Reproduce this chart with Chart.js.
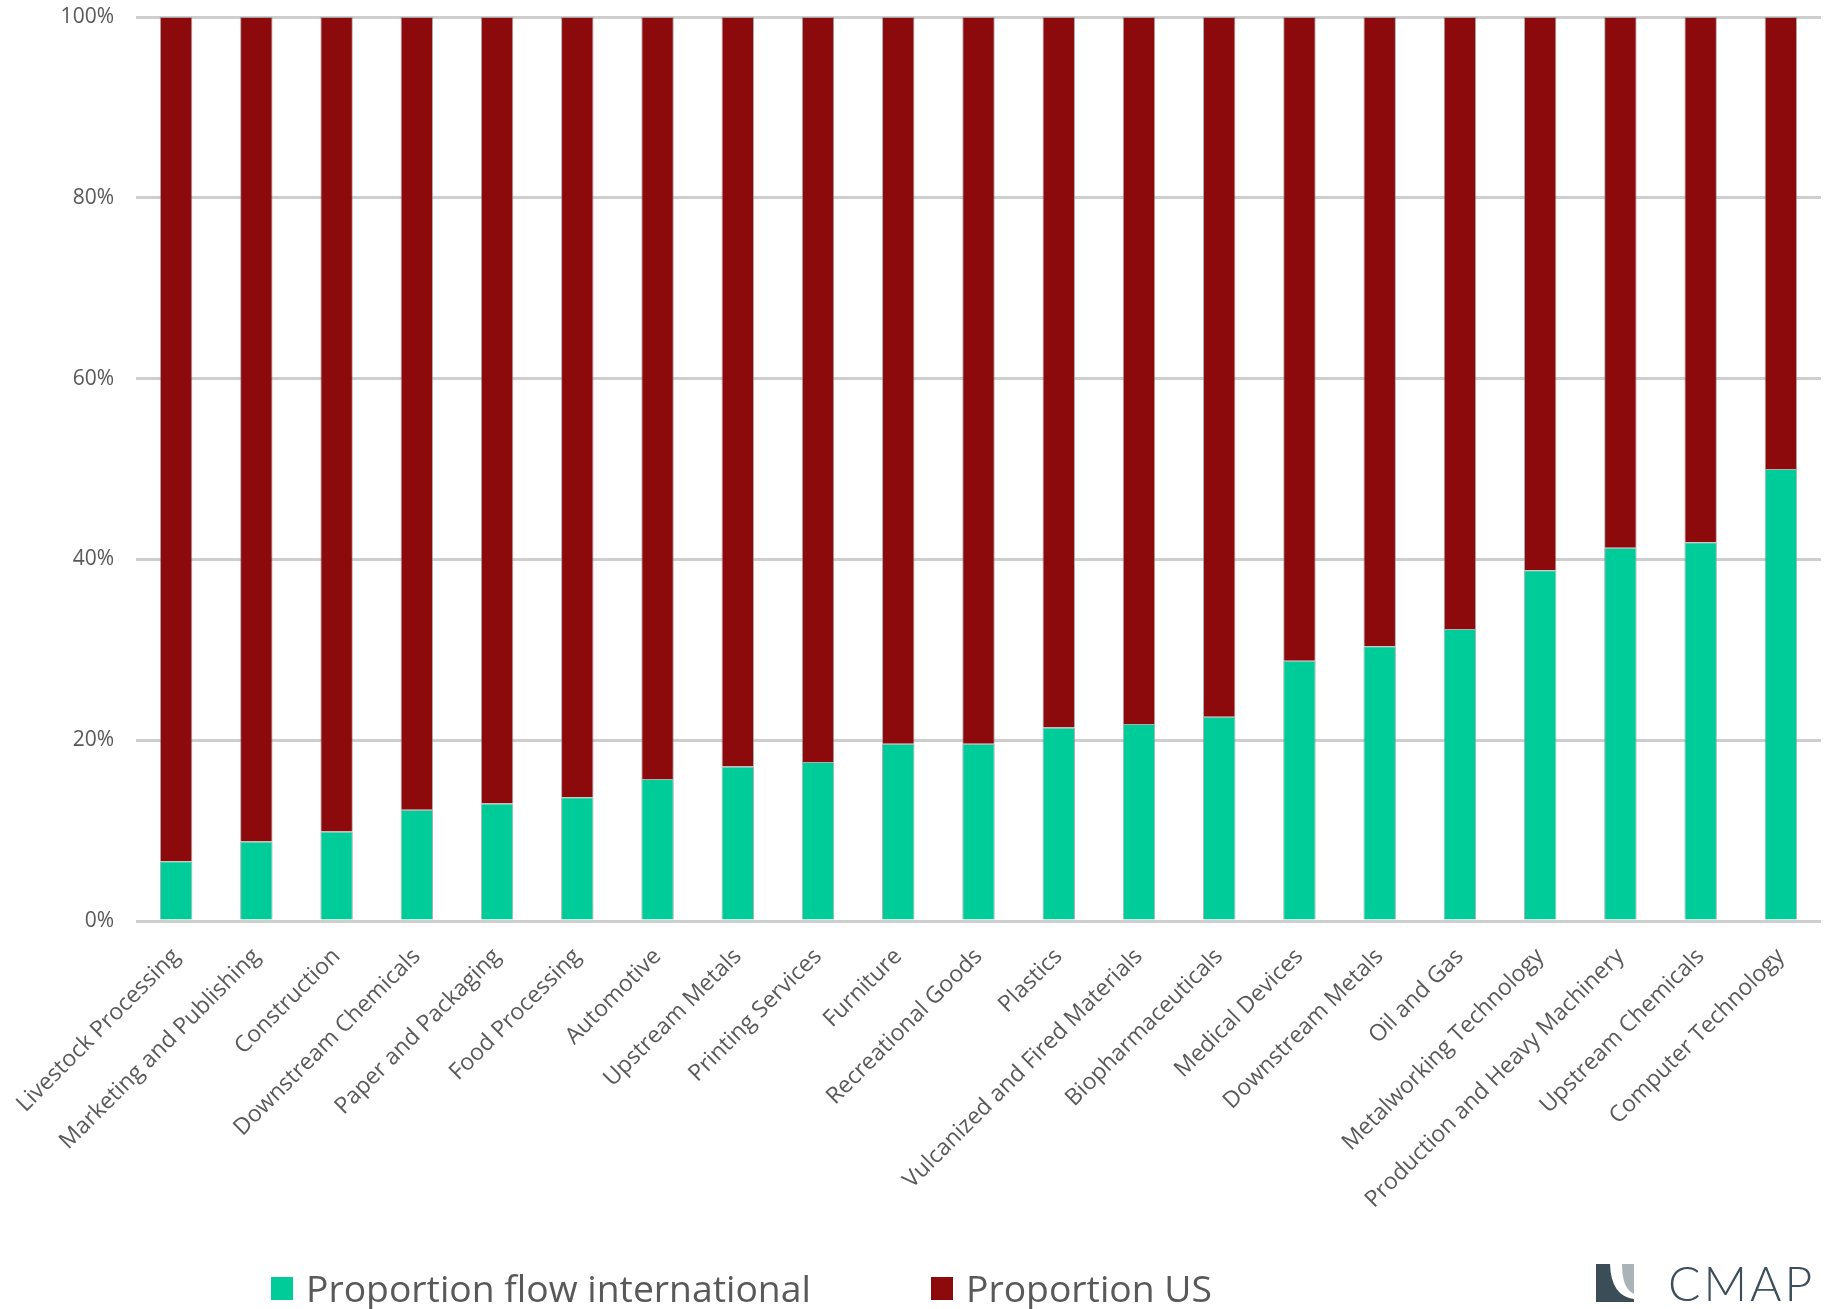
<!DOCTYPE html>
<html>
<head>
<meta charset="utf-8">
<script src="https://cdn.jsdelivr.net/npm/chart.js@4/dist/chart.umd.min.js"></script>
<style>
  body { margin: 0; background: #fff; }
  #wrap { position: relative; width: 1825px; height: 1309px; }
  #chart { position: absolute; left: 0; top: 0; }
  #legend { position: absolute; left: 271px; top: 1264px; height: 48px; font-family: "Open Sans", sans-serif; font-size: 37.3px; color: #595959; }
  .item { position: absolute; top: 0; white-space: nowrap; line-height: 48px; }
  .item span.box { position: absolute; left: 0; top: 13px; width: 22px; height: 23px; }
  .item span.txt { position: absolute; left: 35px; top: 0; }
  #logo { position: absolute; left: 1596px; top: 1264px; height: 38px; }
  #logo svg { position: absolute; left: 0; top: 0; }
  #logo .name { position: absolute; left: 72px; top: -10px; font-family: Lato, sans-serif; font-weight: 300; font-size: 48px; color: #3d4f58; letter-spacing: 3px; }
</style>
</head>
<body>
<div id="wrap">
  <canvas id="chart" width="1825" height="1309"></canvas>
  <div id="legend"></div>
  <div id="logo">
    <svg width="38" height="38" viewBox="0 0 38 38">
      <path d="M0 0 H14 Q15 32 38 35 V38 H0 Z" fill="#3b4d56"/>
      <path d="M26 0 H38 V30 Q26 25 26 0 Z" fill="#a9b3b8"/>
    </svg>
    <span class="name">CMAP</span>
  </div>
</div>
<script>
const categories = [
    "Livestock Processing",
    "Marketing and Publishing",
    "Construction",
    "Downstream Chemicals",
    "Paper and Packaging",
    "Food Processing",
    "Automotive",
    "Upstream Metals",
    "Printing Services",
    "Furniture",
    "Recreational Goods",
    "Plastics",
    "Vulcanized and Fired Materials",
    "Biopharmaceuticals",
    "Medical Devices",
    "Downstream Metals",
    "Oil and Gas",
    "Metalworking Technology",
    "Production and Heavy Machinery",
    "Upstream Chemicals",
    "Computer Technology",
];

// share of flows, in percent
const internationalShare = [6.6, 8.8, 9.9, 12.3, 13.0, 13.7, 15.7, 17.1, 17.6, 19.6, 19.6, 21.4, 21.8, 22.6, 28.8, 30.4, 32.3, 38.8, 41.3, 41.9, 50.0];
const usShare = [93.4, 91.2, 90.1, 87.7, 87.0, 86.3, 84.3, 82.9, 82.4, 80.4, 80.4, 78.6, 78.2, 77.4, 71.2, 69.6, 67.7, 61.2, 58.7, 58.1, 50.0];

const yTicks = [0, 20, 40, 60, 80, 100];

const GREEN = "#00cc99";
const RED = "#8c090c";
const LABEL = "#595959";

const ctx = document.getElementById('chart').getContext('2d');

let chart = new Chart(ctx, {
    type: "bar",
    data: {
        labels: categories,
        datasets: [
            {
                label: "Proportion flow international",
                data: internationalShare,
                backgroundColor: GREEN,
                borderColor: "rgba(140,140,140,0.7)",
                borderWidth: 1,
            },
            {
                label: "Proportion US",
                data: usShare,
                backgroundColor: RED,
                borderColor: "rgba(140,140,140,0.7)",
                borderWidth: 1,
            }
        ],
    },
    options: {
        responsive: false,
        animation: false,
        layout: {
            padding: { top: 0, right: 4, left: 0, bottom: 0 }
        },
        datasets: {
            bar: {
                categoryPercentage: 1,
                barPercentage: 0.405,
            }
        },
        plugins: {
            legend: { display: false },
            tooltip: { enabled: false },
        },
        scales: {
            x: {
                stacked: true,
                grid: { display: false },
                border: { display: false },
                ticks: {
                    color: LABEL,
                    font: { family: "Open Sans", size: 23 },
                    minRotation: 45,
                    maxRotation: 45,
                    autoSkip: false,
                    padding: 14,
                },
                afterFit(scale) {
                    scale.height = 388;
                },
            },
            y: {
                stacked: true,
                min: 0,
                max: 100,
                afterBuildTicks(scale) {
                    scale.ticks = yTicks.map(v => ({ value: v }));
                },
                grid: {
                    color: "#cecece",
                    lineWidth: 3,
                    drawTicks: false,
                },
                border: { display: false },
                ticks: {
                    color: LABEL,
                    font: { family: "Open Sans", size: 21 },
                    padding: 22,
                    callback: v => v + "%",
                },
                afterFit(scale) {
                    // fixed axis width, and keep the tick padding from pushing the plot down
                    scale.width = 136;
                    scale.paddingTop = 17;
                    scale.paddingBottom = 0;
                },
            },
        },
    },
});

// legend built from the datasets
const legend = document.getElementById('legend');
const offsets = [0, 660];
chart.data.datasets.forEach((ds, i) => {
    const item = document.createElement('div');
    item.className = 'item';
    item.style.left = offsets[i] + 'px';
    item.innerHTML = '<span class="box" style="background:' + ds.backgroundColor + '"></span><span class="txt">' + ds.label + '</span>';
    legend.appendChild(item);
});
</script>
</body>
</html>
